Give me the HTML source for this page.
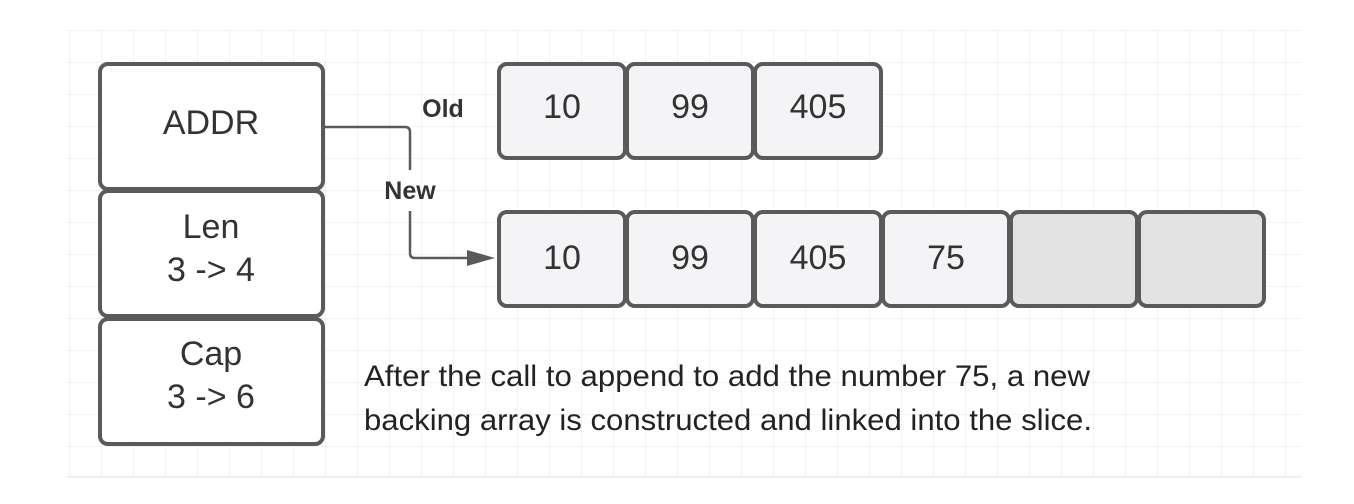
<!DOCTYPE html>
<html><head><meta charset="utf-8"><style>
body{margin:0;width:1354px;height:499px;background:#fff;overflow:hidden;font-family:"Liberation Sans",sans-serif}
</style></head><body>
<svg width="1354" height="499" xmlns="http://www.w3.org/2000/svg" font-family="Liberation Sans, sans-serif">
<defs>
<pattern id="g" x="69" y="30" width="32" height="32" patternUnits="userSpaceOnUse">
<path d="M0 0H32M0 0V32" stroke="#e6e6e6" stroke-width="1" fill="none"/>
</pattern>
</defs>
<rect x="67" y="30" width="1235" height="447" fill="url(#g)"/>
<line x1="67" y1="477" x2="1302" y2="477" stroke="#e0e0e0"/>
<g stroke="#5a5a5a" stroke-width="4" fill="#fff">
<rect x="100" y="64" width="223" height="125" rx="8"/>
<rect x="100" y="191" width="223" height="125" rx="8"/>
<rect x="100" y="319" width="223" height="125" rx="8"/>
</g>
<g stroke="#5a5a5a" stroke-width="4" fill="#f4f3f5">
<rect x="499" y="64" width="126" height="94" rx="8"/>
<rect x="627" y="64" width="126" height="94" rx="8"/>
<rect x="755" y="64" width="126" height="94" rx="8"/>
<rect x="499" y="212" width="126" height="94" rx="8"/>
<rect x="627" y="212" width="126" height="94" rx="8"/>
<rect x="755" y="212" width="126" height="94" rx="8"/>
<rect x="883" y="212" width="126" height="94" rx="8"/>
<rect x="1011" y="212" width="126" height="94" rx="8" fill="#e3e3e3"/>
<rect x="1139" y="212" width="125" height="94" rx="8" fill="#e3e3e3"/>
</g>
<path d="M325 127H405Q410 127 410 132V170M410 211V253Q410 258 415 258H470" stroke="#5a5a5a" stroke-width="2.5" fill="none"/>
<path d="M467 250L495 258L467 266Z" fill="#5a5a5a"/>
<g fill="#333" font-size="34" text-anchor="middle">
<text x="211" y="134">ADDR</text>
<text x="211" y="238">Len</text>
<text x="211" y="281">3 -&gt; 4</text>
<text x="211" y="365">Cap</text>
<text x="211" y="408">3 -&gt; 6</text>
<text x="562" y="118">10</text>
<text x="690" y="118">99</text>
<text x="818" y="118">405</text>
<text x="562" y="269">10</text>
<text x="690" y="269">99</text>
<text x="818" y="269">405</text>
<text x="946" y="269">75</text>
</g>
<g fill="#333" font-size="25" font-weight="bold" text-anchor="middle">
<text x="443" y="117">Old</text>
<text x="410" y="199">New</text>
</g>
<g fill="#222" font-size="30">
<text x="364" y="386" textLength="726" lengthAdjust="spacingAndGlyphs">After the call to append to add the number 75, a new</text>
<text x="364" y="430" textLength="728" lengthAdjust="spacingAndGlyphs">backing array is constructed and linked into the slice.</text>
</g>
</svg>
</body></html>
